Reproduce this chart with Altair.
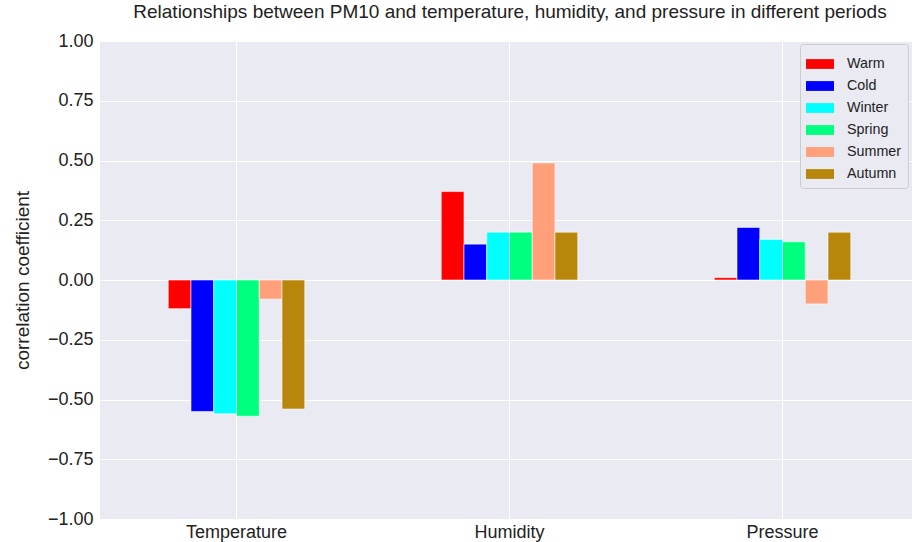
import altair as alt
import pandas as pd

categories = ["Temperature", "Humidity", "Pressure"]
periods = ["Warm", "Cold", "Winter", "Spring", "Summer", "Autumn"]
colors = ["#ff0000", "#0000ff", "#00ffff", "#00ff7f", "#ffa07a", "#b8860b"]

warm = [-0.12, 0.37, 0.01]
cold = [-0.55, 0.15, 0.22]
winter = [-0.56, 0.20, 0.17]
spring = [-0.57, 0.20, 0.16]
summer = [-0.08, 0.49, -0.10]
autumn = [-0.54, 0.20, 0.20]

series = [warm, cold, winter, spring, summer, autumn]
rows = []
for p, vals in zip(periods, series):
    for c, v in zip(categories, vals):
        rows.append({"variable": c, "period": p, "value": v})
df = pd.DataFrame(rows)

FONT = "Liberation Sans"

chart = alt.Chart(df).mark_bar(
    stroke="white", strokeWidth=0.8, strokeOpacity=0.7
).encode(
    x=alt.X(
        "variable:N",
        sort=categories,
        scale=alt.Scale(paddingInner=0.5, paddingOuter=0.25, range=[0, 819]),
        axis=alt.Axis(
            title=None, labelAngle=0, labelFontSize=18, labelColor="#222222",
            labelFont=FONT, ticks=False, domain=False, grid=True,
            gridColor="white", gridWidth=1, bandPosition=0.5, labelPadding=4,
        ),
    ),
    xOffset=alt.XOffset(
        "period:N", sort=periods,
        scale=alt.Scale(paddingInner=0, paddingOuter=0),
    ),
    y=alt.Y(
        "value:Q",
        scale=alt.Scale(domain=[-1, 1], nice=False),
        axis=alt.Axis(
            title="correlation coefficient", values=[-1, -0.75, -0.5, -0.25, 0, 0.25, 0.5, 0.75, 1],
            format=".2f", labelFontSize=18, labelColor="#222222", labelFont=FONT,
            titleFontSize=19, titleFont=FONT, titleFontWeight="normal", titleColor="#222222",
            ticks=False, domain=False, grid=True, gridColor="white", gridWidth=1,
            labelPadding=7, titlePadding=15,
        ),
    ),
    color=alt.Color(
        "period:N",
        sort=periods,
        scale=alt.Scale(domain=periods, range=colors),
        legend=alt.Legend(
            title=None, orient="none", legendX=700, legendY=3,
            symbolType="M-1,-0.35L1,-0.35L1,0.35L-1,0.35Z", symbolSize=784,
            symbolStrokeWidth=0, labelFontSize=14.3, labelFont=FONT, labelColor="#222222",
            rowPadding=0, padding=6, fillColor="#eaeaf2", strokeColor="#cccccc",
            cornerRadius=3, labelOffset=13,
        ),
    ),
).properties(
    width=812,
    height=478,
    background="white",
    title=alt.TitleParams(
        "Relationships between PM10 and temperature, humidity, and pressure in different periods",
        fontSize=19, font=FONT, fontWeight="normal", color="#222222", offset=10,
        anchor="middle", dx=4,
    ),
    autosize=alt.AutoSizeParams(type="none"),
    padding={"left": 100, "top": 41, "right": 0, "bottom": 23},
).configure_view(
    fill="#eaeaf2", strokeWidth=0
)

chart.save("out.html", embed_options={"renderer": "svg", "actions": False})
